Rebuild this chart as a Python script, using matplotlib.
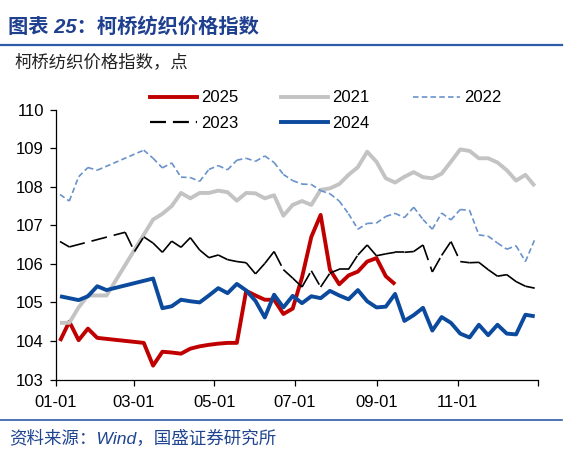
import numpy as np
import matplotlib
matplotlib.use("Agg")
import matplotlib.pyplot as plt
from matplotlib.collections import LineCollection
from matplotlib.lines import Line2D

plt.rcParams['font.family'] = ['Liberation Sans', 'Noto Sans CJK SC', 'DejaVu Sans']
plt.rcParams['lines.scale_dashes'] = False

N = None
# weekly observations (week index 0..51 of each year)
weeks = np.arange(52)
obs_day = 3.25 + 7.04 * weeks          # day of year of each weekly observation

v2025 = [104.00, 104.50, 104.02, 104.32, 104.08, N, N, N, N, 103.95, 103.36, 103.72,
         103.70, 103.67, 103.80, 103.86, 103.90, 103.93, 103.95, 103.95, 105.30, 105.18,
         105.07, 105.07, 104.70, 104.84, 105.65, 106.70, 107.27, 105.85, 105.47, 105.70,
         105.80, 106.06, 106.15, 105.68, 105.47]
v2021 = [104.47, 104.47, 104.87, 105.18, 105.18, 105.18, N, N, N, N, 107.15, 107.30,
         107.50, 107.84, 107.70, 107.84, 107.84, 107.90, 107.86, 107.64, 107.84, 107.83,
         107.70, 107.78, 107.25, 107.53, 107.63, 107.53, 107.92, 107.96, 108.07, 108.31,
         108.51, 108.91, 108.65, 108.22, 108.11, 108.26, 108.38, 108.25, 108.22, 108.34,
         108.65, 108.97, 108.93, 108.74, 108.74, 108.63, 108.43, 108.16, 108.31, 108.02]
v2022 = [107.80, 107.63, 108.26, 108.50, 108.43, N, N, N, N, 108.95, 108.74, 108.49,
         108.62, 108.25, 108.24, 108.14, 108.45, 108.55, 108.44, 108.69, 108.74, 108.66,
         108.80, 108.63, 108.32, 108.16, 108.07, 108.06, 107.90, 107.82, 107.63, 107.30,
         106.90, 107.05, 107.06, 107.23, 107.31, 107.20, 107.47, 107.15, 106.90, 107.32,
         107.14, 107.41, 107.39, 106.75, 106.72, 106.54, 106.38, 106.47, 106.06, 106.63]
v2023 = [106.58, 106.44, N, N, N, N, N, 106.82, 106.32, 106.70, 106.54, 106.30,
         106.59, 106.43, 106.68, 106.36, 106.16, 106.23, 106.11, 106.06, 106.03, 105.74,
         106.01, 106.32, 105.85, 105.63, 105.40, 105.82, 105.40, 105.76, 105.86, 105.86,
         106.23, 106.49, 106.21, 106.26, 106.30, 106.30, 106.32, 106.49, 105.79, 106.22,
         106.58, 106.06, 106.03, 106.04, 105.85, 105.68, 105.72, 105.54, 105.42, 105.37]
v2024 = [105.16, 105.11, 105.06, 105.16, 105.42, 105.32, N, N, N, N, 105.62, 104.85,
         104.90, 105.07, 105.03, 105.00, 105.18, 105.37, 105.24, 105.48, 105.31, 105.04,
         104.61, 105.20, 104.87, 105.17, 104.98, 105.16, 105.11, 105.30, 105.18, 105.08,
         105.32, 105.03, 104.87, 104.89, 105.22, 104.52, 104.67, 104.86, 104.27, 104.62,
         104.47, 104.19, 104.09, 104.42, 104.15, 104.42, 104.19, 104.17, 104.68, 104.64]

month_ticks = [0, 59, 120, 181, 243, 304, 365]
month_labels = ['01-01', '03-01', '05-01', '07-01', '09-01', '11-01', '']
y_ticks = [103, 104, 105, 106, 107, 108, 109, 110]

W, H = 571, 453
fig = plt.figure(figsize=(W / 100, H / 100), dpi=100)
ax = fig.add_axes([55.7 / W, 1 - 379.5 / H, (538.3 - 55.7) / W, (379.5 - 109.7) / H])


def xy(vals):
    pts = [(obs_day[i], v) for i, v in enumerate(vals) if v is not None]
    return np.array(pts)


def solid(vals, color, lw, z):
    p = xy(vals)
    ax.plot(p[:, 0], p[:, 1], color=color, lw=lw, zorder=z,
            solid_joinstyle='round', solid_capstyle='butt')


def dashed_segments(vals, color, lw, dash, z):
    # dash pattern restarts on each segment (as in the source chart)
    p = xy(vals)
    segs = [[p[i], p[i + 1]] for i in range(len(p) - 1)]
    lc = LineCollection(segs, colors=color, linewidths=lw,
                        linestyles=[(0, dash)], zorder=z, capstyle='butt')
    ax.add_collection(lc)


c2025, c2021, c2022, c2023, c2024 = '#C00000', '#C3C3C3', '#6892CB', '#000000', '#0B4A9C'
d2022 = (4.0, 2.3)
d2023 = (11.5, 5.0)

solid(v2025, c2025, 2.8, 2)
solid(v2021, c2021, 2.8, 3)
dashed_segments(v2022, c2022, 1.2, d2022, 4)
dashed_segments(v2023, c2023, 1.2, d2023, 5)
solid(v2024, c2024, 2.8, 6)

ax.set_xlim(0, 365)
ax.set_ylim(103, 110)
ax.set_xticks(month_ticks)
ax.set_xticklabels(month_labels)
ax.set_yticks(y_ticks)
ax.tick_params(axis='both', direction='out', length=4.5, width=0.9, labelsize=12,
               color='black')
ax.tick_params(axis='y', pad=4)
ax.tick_params(axis='x', pad=7)
for s in ['top', 'right']:
    ax.spines[s].set_visible(False)
for s in ['left', 'bottom']:
    ax.spines[s].set_linewidth(0.9)
ax.patch.set_alpha(0)

handles = {
    '2025': Line2D([], [], color=c2025, lw=2.8),
    '2021': Line2D([], [], color=c2021, lw=2.8),
    '2022': Line2D([], [], color=c2022, lw=1.2, ls=(0, d2022)),
    '2023': Line2D([], [], color=c2023, lw=1.6, ls=(0, d2023)),
    '2024': Line2D([], [], color=c2024, lw=2.8),
}
order = ['2025', '2023', '2021', '2024', '2022']
fig.legend([handles[k] for k in order], order, ncol=3, loc='upper left',
           bbox_to_anchor=(150 / W, 1 - 90.5 / H), frameon=False, fontsize=12,
           handlelength=2.8, handletextpad=0.25, columnspacing=2.6,
           labelspacing=0.62, borderpad=0, borderaxespad=0)

blue = '#2D5BA6'
fig.text(8 / W, 1 - 27 / H, '图表 25：柯桥纺织价格指数', fontsize=14.6, fontweight='bold',
         style='italic', color='#1F3F8F', va='center', ha='left')
fig.add_artist(Line2D([0, 0.985], [1 - 44.5 / H, 1 - 44.5 / H], color=blue, lw=1.6,
                      transform=fig.transFigure))
fig.text(14 / W, 1 - 62 / H, '柯桥纺织价格指数，点', fontsize=12.5, color='#222222',
         va='center', ha='left')
fig.add_artist(Line2D([0, 0.985], [1 - 420 / H, 1 - 420 / H], color=blue, lw=1.2,
                      transform=fig.transFigure))
fig.text(9 / W, 1 - 438 / H, '资料来源：Wind，国盛证券研究所', fontsize=12.6, style='italic',
         color='#1F4591', va='center', ha='left')

fig.savefig('out.png', dpi=100)
